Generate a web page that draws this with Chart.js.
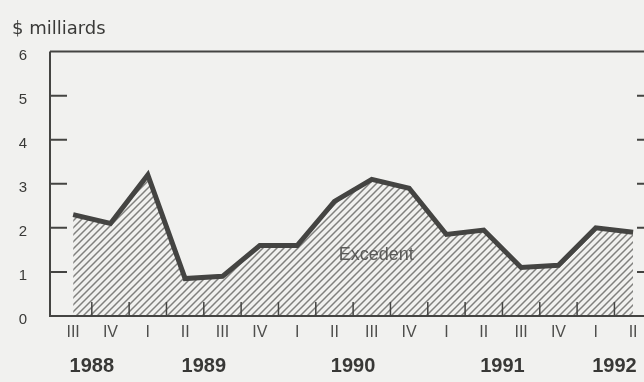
<!DOCTYPE html>
<html><head>
<meta charset="utf-8">
<script src="https://cdn.jsdelivr.net/npm/chart.js@4.4.1/dist/chart.umd.min.js"></script>
<style>
  html, body { margin: 0; padding: 0; background: #f1f1ef; overflow: hidden; }
  canvas { display: block; }
</style>
</head>
<body>
<canvas id="chart" width="660" height="382"></canvas>
<script>
// quarterly surplus, $ billions
var quarters = ['III', 'IV', 'I', 'II', 'III', 'IV', 'I', 'II', 'III', 'IV', 'I', 'II', 'III', 'IV', 'I', 'II'];
var years = ['1988', '1989', '1990', '1991', '1992'];
var surplus = [2.3, 2.1, 3.2, 0.85, 0.9, 1.6, 1.6, 2.6, 3.1, 2.9, 1.85, 1.95, 1.1, 1.15, 2.0, 1.9];
var yTicks = [0, 1, 2, 3, 4, 5, 6];
var areaLabel = 'Excedent';

var ink = '#444442';
var font = 'Liberation Sans, Arial, sans-serif';

// which year each quarter belongs to: a new year starts at every 'I'
var yearSpans = [];
(function () {
  var y = 0;
  quarters.forEach(function (q, i) {
    if (i > 0 && q === 'I') y++;
    if (!yearSpans[y]) yearSpans[y] = { first: i, last: i };
    yearSpans[y].last = i;
  });
})();

var ctx = document.getElementById('chart').getContext('2d');

function hatch() {
  var n = 7;
  var c = document.createElement('canvas');
  c.width = n; c.height = n;
  var g = c.getContext('2d');
  g.strokeStyle = '#80807e';
  g.lineWidth = 1.5;
  g.beginPath();
  g.moveTo(0, n); g.lineTo(n, 0);
  g.moveTo(-1, 1); g.lineTo(1, -1);
  g.moveTo(n - 1, n + 1); g.lineTo(n + 1, n - 1);
  g.stroke();
  return ctx.createPattern(c, 'repeat');
}

var frame = {
  id: 'frame',
  afterDatasetsDraw: function (chart) {
    var c = chart.ctx, a = chart.chartArea, xs = chart.scales.x, ys = chart.scales.y;
    c.save();
    c.strokeStyle = ink;
    c.lineWidth = 2;
    c.beginPath();
    c.moveTo(a.left, a.top); c.lineTo(a.right, a.top);
    c.moveTo(a.left, a.top); c.lineTo(a.left, a.bottom); c.lineTo(a.right, a.bottom);
    c.moveTo(a.right, a.top); c.lineTo(a.right, a.bottom);
    // inner ticks on both value axes
    yTicks.forEach(function (v) {
      if (v === 0 || v === 6) return;
      var py = ys.getPixelForValue(v);
      c.moveTo(a.left, py); c.lineTo(a.left + 17, py);
      c.moveTo(a.right, py); c.lineTo(a.right - 17, py);
    });
    c.stroke();
    // quarter separators along the base
    c.lineWidth = 1.5;
    c.beginPath();
    quarters.forEach(function (q, i) {
      var px = xs.getPixelForValue(i + 0.5);
      if (px >= a.right) return;
      c.moveTo(px, a.bottom); c.lineTo(px, a.bottom - 14);
    });
    c.stroke();

    c.fillStyle = '#5a5a58';
    c.font = '18px ' + font;
    c.textAlign = 'center';
    c.textBaseline = 'middle';
    c.fillText(areaLabel, xs.getPixelForValue(8.12), ys.getPixelForValue(1.39));
    c.restore();
  },
  afterDraw: function (chart) {
    var c = chart.ctx, xs = chart.scales.x;
    c.save();
    c.fillStyle = '#383836';
    c.font = 'bold 20px ' + font;
    c.textAlign = 'center';
    c.textBaseline = 'middle';
    years.forEach(function (yr, k) {
      var s = yearSpans[k];
      var px = (xs.getPixelForValue(s.first) + xs.getPixelForValue(s.last)) / 2;
      c.fillText(yr, px, 366);
    });
    c.restore();
  }
};

new Chart(ctx, {
  type: 'line',
  data: {
    datasets: [{
      data: surplus.map(function (v, i) { return { x: i, y: v }; }),
      borderColor: ink,
      borderWidth: 5,
      pointRadius: 0,
      tension: 0,
      fill: 'origin',
      backgroundColor: hatch()
    }]
  },
  options: {
    responsive: false,
    animation: false,
    layout: { padding: { left: 12, right: 6, top: 0, bottom: 0 } },
    plugins: {
      legend: { display: false },
      tooltip: { enabled: false },
      title: {
        display: true,
        text: '$ milliards',
        align: 'start',
        color: '#3a3a38',
        font: { size: 18, family: 'DejaVu Sans, sans-serif', weight: 'normal' },
        padding: { top: 19, bottom: 11 }
      }
    },
    scales: {
      x: {
        type: 'linear',
        min: -0.62,
        max: 15.56,
        afterBuildTicks: function (s) { s.ticks = quarters.map(function (q, i) { return { value: i }; }); },
        afterFit: function (s) { s.height = 66; },
        grid: { display: false, drawTicks: false },
        border: { display: false },
        ticks: {
          callback: function (v) { return quarters[v]; },
          color: '#4e4e4c',
          font: { size: 16, family: font },
          padding: 7,
          maxRotation: 0,
          autoSkip: false
        }
      },
      y: {
        min: 0,
        max: 6,
        afterBuildTicks: function (s) { s.ticks = yTicks.map(function (v) { return { value: v }; }); },
        afterFit: function (s) { s.width = 38; },
        grid: { display: false, drawTicks: false },
        border: { display: false },
        ticks: {
          color: '#3a3a38',
          font: { size: 15, family: font },
          padding: 23,
          labelOffset: 4
        }
      }
    }
  },
  plugins: [frame]
});
</script>
</body>
</html>
